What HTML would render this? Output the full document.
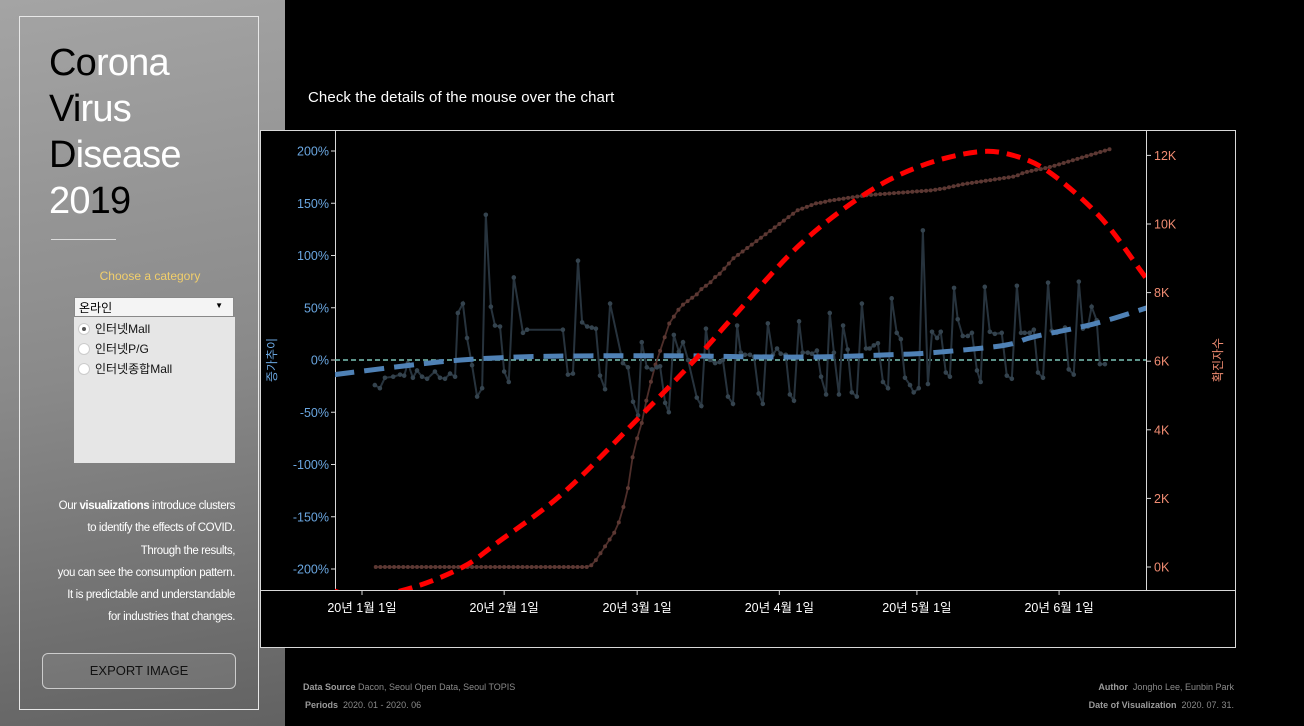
<!DOCTYPE html>
<html><head><meta charset="utf-8">
<style>
*{margin:0;padding:0;box-sizing:border-box}
body{width:1304px;height:726px;background:#000;position:relative;overflow:hidden;font-family:"Liberation Sans","Noto Sans CJK KR",sans-serif}
#left{position:absolute;left:0;top:0;width:285px;height:726px;background:linear-gradient(170deg,#a4a4a4 0%,#8a8a8a 50%,#626262 100%)}
#frame{position:absolute;left:19px;top:16px;width:240px;height:694px;border:1px solid #e8e8e8}
.t{position:absolute;left:49px;font-size:38px;line-height:46px;color:#fff;letter-spacing:-0.8px}
.t b{font-weight:normal;color:#000}
#div{position:absolute;left:51px;top:239px;width:65px;height:1px;background:#ddd}
#choose{position:absolute;left:0;width:300px;top:269px;text-align:center;font-size:12px;color:#f2cf6b}
#dd{position:absolute;left:74px;top:297px;width:160px;height:20px;background:#f4f4f4;border:1px solid #888;font-size:12px;padding:1px 4px;color:#000}
#dd span{position:absolute;right:10px;top:3px;font-size:8px}
#list{position:absolute;left:74px;top:317px;width:161px;height:146px;background:#e6e6e6}
.r{position:absolute;left:4px;font-size:12px;color:#111;height:16px;line-height:16px}
.r i{display:inline-block;width:12px;height:12px;border-radius:50%;background:#fff;border:1px solid #ccc;vertical-align:-2px;margin-right:5px;position:relative}
.r i.on::after{content:"";position:absolute;left:3px;top:3px;width:4px;height:4px;border-radius:50%;background:#555}
#para{position:absolute;right:1069px;top:495px;text-align:right;font-size:11.5px;letter-spacing:-0.4px;color:#fff;line-height:22.3px;white-space:nowrap}
#btn{position:absolute;left:42px;top:653px;width:194px;height:36px;border:1px solid #ccc;border-radius:6px;text-align:center;line-height:34px;font-size:13px;color:#111;background:rgba(255,255,255,0.08)}
#title{position:absolute;left:308px;top:89px;font-size:15px;color:#fff;letter-spacing:0.1px}
.ft{position:absolute;font-size:9px;color:#8a8a8a}
.ft b{color:#9a9a9a}
svg{position:absolute;left:0;top:0}
</style></head><body>
<div id="left"></div>
<div id="frame"></div>
<div class="t" style="top:40px"><b>Co</b>rona</div>
<div class="t" style="top:86px"><b>Vi</b>rus</div>
<div class="t" style="top:132px"><b>D</b>isease</div>
<div class="t" style="top:178px">20<b>19</b></div>
<div id="div"></div>
<div id="choose">Choose a category</div>
<div id="dd">온라인<span>▼</span></div>
<div id="list">
 <div class="r" style="top:4px"><i class="on"></i>인터넷Mall</div>
 <div class="r" style="top:24px"><i></i>인터넷P/G</div>
 <div class="r" style="top:44px"><i></i>인터넷종합Mall</div>
</div>
<div id="para">Our <b>visualizations</b> introduce clusters<br>to identify the effects of COVID.<br>Through the results,<br>you can see the consumption pattern.<br>It is predictable and understandable<br>for industries that changes.</div>
<div id="btn">EXPORT IMAGE</div>
<div id="title">Check the details of the mouse over the chart</div>
<div class="ft" style="left:303px;top:682px"><b>Data Source</b> Dacon, Seoul Open Data, Seoul TOPIS</div>
<div class="ft" style="left:305px;top:700px"><b>Periods</b>&nbsp; 2020. 01 - 2020. 06</div>
<div class="ft" style="right:70px;top:682px"><b>Author</b>&nbsp; Jongho Lee, Eunbin Park</div>
<div class="ft" style="right:70px;top:700px"><b>Date of Visualization</b>&nbsp; 2020. 07. 31.</div>
<svg id="chart" width="1304" height="726"></svg>
<script>
const monthTickDays=[0,31,60,91,121,152];
const monthTickLabels=["20년 1월 1일","20년 2월 1일","20년 3월 1일","20년 4월 1일","20년 5월 1일","20년 6월 1일"];
const leftTicks=[200,150,100,50,0,-50,-100,-150,-200];
const rightTicks=[12,10,8,6,4,2,0];
const growthDays=[2.8,3.9,5.0,6.8,8.3,9.2,10.0,11.1,12.0,13.1,14.2,15.9,17.0,18.1,19.2,20.3,20.9,22.0,22.9,24.0,25.1,26.2,27.0,28.1,29.0,30.1,31.0,32.0,33.1,35.1,36.0,43.8,44.9,46.0,47.1,48.0,49.1,50.1,51.0,51.9,53.0,54.1,56.9,58.0,59.1,60.2,61.0,62.1,63.2,64.3,65.0,66.1,66.9,68.0,69.1,70.0,71.1,73.0,74.0,75.0,75.9,77.0,78.0,78.7,79.8,80.9,81.8,82.6,83.5,84.6,85.5,86.5,87.4,88.5,89.6,90.5,91.3,92.4,93.3,94.2,95.3,96.1,97.2,98.1,99.2,100.1,101.2,102.0,102.9,104.0,104.9,105.9,106.8,107.9,109.0,109.9,110.7,111.6,112.5,113.6,114.7,115.5,116.6,117.5,118.4,119.5,120.3,121.4,122.3,123.4,124.3,125.4,126.2,127.3,128.2,129.1,129.9,131.0,132.1,133.0,134.1,134.9,135.8,136.9,138.0,139.5,140.6,141.7,142.8,143.7,144.5,145.6,146.5,147.4,148.5,149.6,150.4,151.5,152.4,153.3,154.1,155.2,156.3,157.2,158.3,159.1,160.2,160.9,162.0];
const growthValues=[-24,-27,-17,-16,-14,-15,-3,-17,-10,-16,-18,-11,-17,-18,-13,-16,45,54,21,-5,-35,-27,139,51,33,32,-11,-21,79,26,29,29,-14,-13,95,36,32,31,30,-15,-28,54,-3,-7,-40,-53,17,-7,-9,-7,-6,-41,-50,24,8,17,0,-36,-44,30,0,-3,-2,0,-35,-42,33,7,5,5,3,-32,-42,35,5,11,6,5,-33,-39,37,7,7,6,9,-16,-33,45,7,-33,33,10,-31,-35,54,11,11,14,16,-21,-27,59,26,20,-17,-24,-31,-27,124,-23,27,21,27,-12,-16,69,39,23,23,26,-10,-21,70,27,25,26,-15,-18,71,26,26,26,29,-12,-17,74,28,26,28,31,-9,-14,75,30,32,51,38,-4,-4];
const cumStartDay=3;
const cumValues=[0,0,0,0,0,0,0,0,0,0,0,0,0,0,0,0,0,0,0,0,0,0,0,0,0,0,0,0,0,0,0,0,0,0,0,0,0,0,0,0,0,0,0,0,0,0,0,
0.05,0.2,0.4,0.6,0.8,1.0,1.3,1.75,2.3,3.2,3.75,4.2,4.85,5.4,5.9,6.3,6.7,7.1,7.3,7.5,7.65,7.75,7.85,7.95,8.1,8.2,8.3,8.45,8.55,8.7,8.85,9.0,9.1,9.2,9.3,9.4,9.5,9.6,9.7,9.8,9.9,10.0,10.1,10.2,10.3,10.4,10.45,10.5,10.55,10.6,10.62,10.65,10.68,10.7,10.72,10.74,10.76,10.78,10.8,10.82,10.84,10.85,10.86,10.87,10.88,10.89,10.9,10.91,10.92,10.93,10.94,10.95,10.96,10.97,10.98,11.0,11.02,11.04,11.07,11.1,11.13,11.16,11.18,11.2,11.22,11.24,11.26,11.28,11.3,11.32,11.34,11.36,11.38,11.42,11.48,11.52,11.55,11.58,11.6,11.63,11.66,11.7,11.74,11.78,11.82,11.86,11.9,11.94,11.98,12.02,12.06,12.1,12.14,12.18];
const caseTrendDays=[-6,0,11,22,29.4,43.8,60,73,81,95.5,110,122,134,142,150,161,170,172.6];
const caseTrendValues=[-0.7,-0.9,-0.6,0,0.7,2.15,4.3,6.1,7.3,9.4,10.9,11.7,12.1,12.0,11.5,10.2,8.6,8.1];
const growthTrendDays=[-6,10.5,21.6,35,50,70,85,100,115,124.5,140,146.3,160,172.6];
const growthTrendValues=[-14,-5,0,3,4,4,3,3,5,7,14,22,35,52];

const NS="http://www.w3.org/2000/svg";
const svg=document.getElementById('chart');
const PL=335,PR=1146,PT=130,PB=590;
const x=d=>362+d*4.586;
const yL=v=>360-v*1.045;
const yR=k=>567-k*34.3;
function mk(tag,attrs,parent){const e=document.createElementNS(NS,tag);for(const k in attrs)e.setAttribute(k,attrs[k]);(parent||svg).appendChild(e);return e;}
function smooth(pts){let d=`M${pts[0][0]},${pts[0][1]}`;for(let i=0;i<pts.length-1;i++){const p0=pts[i-1]||pts[i],p1=pts[i],p2=pts[i+1],p3=pts[i+2]||p2;d+=`C${p1[0]+(p2[0]-p0[0])/6},${p1[1]+(p2[1]-p0[1])/6} ${p2[0]-(p3[0]-p1[0])/6},${p2[1]-(p3[1]-p1[1])/6} ${p2[0]},${p2[1]}`;}return d;}

const bg=mk('rect',{x:260.5,y:130.5,width:975,height:517,fill:'#000',stroke:'#d8d8d8','stroke-width':1});


const defs=mk('defs',{});
const cp=mk('clipPath',{id:'plotclip'},defs);
mk('rect',{x:PL,y:PT,width:PR-PL,height:PB-PT},cp);

const xa=mk('line',{x1:260,y1:590.5,x2:1236,y2:590.5,stroke:'#d8d8d8'});


const la=mk('line',{x1:335.5,y1:130,x2:335.5,y2:590,stroke:'#d8d8d8'});


const ra=mk('line',{x1:1146.5,y1:130,x2:1146.5,y2:590,stroke:'#d8d8d8'});



monthTickDays.forEach((d,i)=>{
 mk('line',{x1:x(d),y1:590,x2:x(d),y2:595,stroke:'#d8d8d8'});
 const t=mk('text',{x:x(d),y:612,fill:'#fff','font-size':12.5,'text-anchor':'middle'});
 t.textContent=monthTickLabels[i];
 
 
});
leftTicks.forEach(v=>{
 mk('line',{x1:331,y1:yL(v),x2:335,y2:yL(v),stroke:'#d8d8d8'});
 const t=mk('text',{x:329,y:yL(v)+4.5,fill:'#6aa6e0','font-size':12.5,'text-anchor':'end'});
 t.textContent=v+'%';
 
 
});
rightTicks.forEach(k=>{
 mk('line',{x1:1146,y1:yR(k),x2:1151,y2:yR(k),stroke:'#d8d8d8'});
 const t=mk('text',{x:1154,y:yR(k)+4.5,fill:'#f08c72','font-size':12.5});
 t.textContent=k+'K';
 
 
});
const lt=mk('text',{x:0,y:0,fill:'#6aa6e0','font-size':12,'text-anchor':'middle',transform:'translate(276,360) rotate(-90)'});
lt.textContent='증가추이';


const rt=mk('text',{x:0,y:0,fill:'#f08c72','font-size':12,'text-anchor':'middle',transform:'translate(1222,360) rotate(-90)'});
rt.textContent='확진자수';



const g=mk('g',{'clip-path':'url(#plotclip)'});
const zl=mk('line',{x1:PL,y1:yL(0),x2:PR,y2:yL(0),stroke:'#7cc4b8','stroke-width':1.5,'stroke-dasharray':'5 3'},g);



const cumPts=cumValues.map((v,i)=>[x(cumStartDay+i),yR(v)]);
const cl=mk('polyline',{points:cumPts.map(p=>p.join(',')).join(' '),fill:'none',stroke:'#4e2e2a','stroke-width':1.8},g);


cumPts.forEach(p=>{const c=mk('circle',{cx:p[0],cy:p[1],r:2,fill:'#5c3833'},g);
 
 });

const gPts=growthValues.map((v,i)=>[x(growthDays[i]),yL(v)]);
const gl=mk('polyline',{points:gPts.map(p=>p.join(',')).join(' '),fill:'none',stroke:'#27333d','stroke-width':2},g);


gPts.forEach(p=>{const c=mk('circle',{cx:p[0],cy:p[1],r:2.3,fill:'#34434e'},g);
 
 });

const bt=mk('path',{d:smooth(growthTrendDays.map((d,i)=>[x(d),yL(growthTrendValues[i])])),fill:'none',stroke:'#4f81b5','stroke-width':5,'stroke-dasharray':'20 10'},g);


const rtl=mk('path',{d:smooth(caseTrendDays.map((d,i)=>[x(d),yR(caseTrendValues[i])])),fill:'none',stroke:'#ff0000','stroke-width':5,'stroke-dasharray':'14 8'},g);


</script>
</body></html>
